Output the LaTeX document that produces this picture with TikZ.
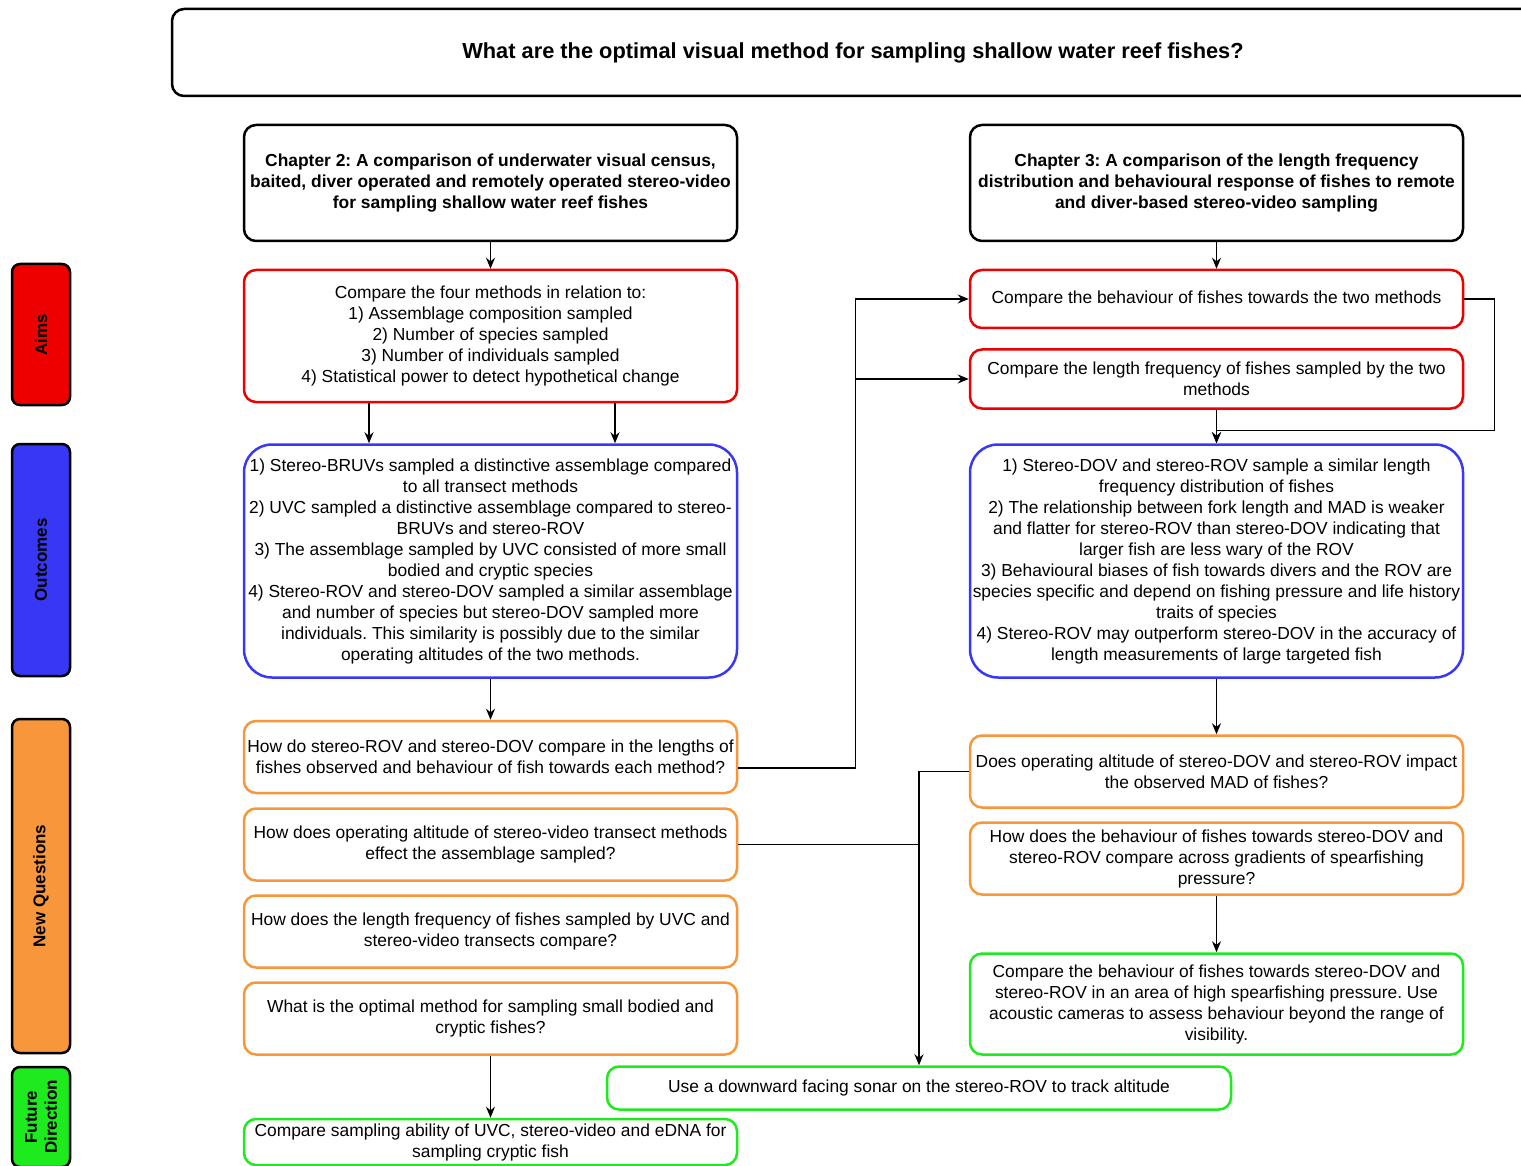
\documentclass[tikz,border=0pt]{standalone}
\usepackage{fontspec}
\setmainfont{Liberation Sans}
\usetikzlibrary{arrows.meta}
\definecolor{aimred}{RGB}{238,0,0}
\definecolor{outblue}{RGB}{55,55,245}
\definecolor{qorange}{RGB}{248,150,60}
\definecolor{fdgreen}{RGB}{30,235,30}
\frenchspacing
\begin{document}
\begin{tikzpicture}[x=1pt, y=-1pt, thick, >={Stealth[length=11pt,width=9pt]},
  box/.style = {draw, rounded corners=12pt, line width=2.5pt, align=center, inner xsep=0pt, inner ysep=2pt, font=\fontsize{17.4}{21}\selectfont},
  chap/.style = {box, draw=black, minimum width=493pt, minimum height=116pt, font=\fontsize{17.4}{21}\selectfont\bfseries},
  aim/.style = {box, draw=aimred, minimum width=493pt},
  outc/.style = {box, draw=outblue, rounded corners=28pt, minimum width=493pt, minimum height=233pt},
  quest/.style = {box, draw=qorange, minimum width=493pt, minimum height=72pt},
  fut/.style = {box, draw=fdgreen, minimum width=493pt},
  sidebox/.style = {draw=black, line width=2.5pt, rounded corners=8pt, rotate=90, minimum height=58pt, align=center, font=\fontsize{17}{20}\selectfont\bfseries},
  link/.style = {line width=1.5pt}]
\useasboundingbox (0,0) rectangle (1521,1166);

\node[box, draw=black, minimum width=1362pt, minimum height=87pt, font=\fontsize{21.8}{25}\selectfont\bfseries] (0) at (853,52.5) {What are the optimal visual method for sampling shallow water reef fishes?};

\node[sidebox, fill=aimred, minimum width=141pt] (21) at (41,334.5) {Aims};
\node[sidebox, fill=outblue, minimum width=232pt] (22) at (41,560) {Outcomes};
\node[sidebox, fill=qorange, minimum width=334pt] (23) at (41,886) {New Questions};
\node[sidebox, fill=fdgreen, minimum width=100pt] (24) at (41,1117) {Future\\Direction};

\node[chap] (1) at (490.5,183) {Chapter 2: A comparison of underwater visual census,\\baited, diver operated and remotely operated stereo-video\\for sampling shallow water reef fishes};
\node[aim, minimum height=132pt] (2) at (490.5,336) {Compare the four methods in relation to:\\1) Assemblage composition sampled\\2) Number of species sampled\\3) Number of individuals sampled\\4) Statistical power to detect hypothetical change};
\node[outc] (3) at (490.5,561) {1) Stereo-BRUVs sampled a distinctive assemblage compared\\to all transect methods\\2) UVC sampled a distinctive assemblage compared to stereo-\\BRUVs and stereo-ROV\\3) The assemblage sampled by UVC consisted of more small\\bodied and cryptic species\\4) Stereo-ROV and stereo-DOV sampled a similar assemblage\\and number of species but stereo-DOV sampled more\\individuals. This similarity is possibly due to the similar\\operating altitudes of the two methods.};
\node[quest] (4) at (490.5,757) {How do stereo-ROV and stereo-DOV compare in the lengths of\\fishes observed and behaviour of fish towards each method?};
\node[quest] (5) at (490.5,844.5) {How does operating altitude of stereo-video transect methods\\effect the assemblage sampled?};
\node[quest] (6) at (490.5,931.5) {How does the length frequency of fishes sampled by UVC and\\stereo-video transects compare?};
\node[quest] (7) at (490.5,1018.5) {What is the optimal method for sampling small bodied and\\cryptic fishes?};
\node[fut, minimum height=46pt] (8) at (490.5,1142) {Compare sampling ability of UVC, stereo-video and eDNA for\\sampling cryptic fish};

\node[chap] (9) at (1216.5,183) {Chapter 3: A comparison of the length frequency\\distribution and behavioural response of fishes to remote\\and diver-based stereo-video sampling};
\node[aim, minimum height=58pt] (10) at (1216.5,299) {Compare the behaviour of fishes towards the two methods};
\node[aim, minimum height=59pt] (11) at (1216.5,379) {Compare the length frequency of fishes sampled by the two\\methods};
\node[outc] (12) at (1216.5,561) {1) Stereo-DOV and stereo-ROV sample a similar length\\frequency distribution of fishes\\2) The relationship between fork length and MAD is weaker\\and flatter for stereo-ROV than stereo-DOV indicating that\\larger fish are less wary of the ROV\\3) Behavioural biases of fish towards divers and the ROV are\\species specific and depend on fishing pressure and life history\\traits of species\\4) Stereo-ROV may outperform stereo-DOV in the accuracy of\\length measurements of large targeted fish};
\node[quest] (13) at (1216.5,771.5) {Does operating altitude of stereo-DOV and stereo-ROV impact\\the observed MAD of fishes?};
\node[quest] (14) at (1216.5,858.5) {How does the behaviour of fishes towards stereo-DOV and\\stereo-ROV compare across gradients of spearfishing\\pressure?};
\node[fut, minimum height=101pt] (15) at (1216.5,1004) {Compare the behaviour of fishes towards stereo-DOV and\\stereo-ROV in an area of high spearfishing pressure. Use\\acoustic cameras to assess behaviour beyond the range of\\visibility.};
\node[fut, minimum width=624pt, minimum height=43pt] (16) at (919,1088) {Use a downward facing sonar on the stereo-ROV to track altitude};

\draw [link, ->] (1) -- (2);
\draw [link, ->] ([xshift=-121.5pt]2.south) -- ([xshift=-121.5pt]3.north);
\draw [link, ->] ([xshift=124.5pt]2.south) -- ([xshift=124.5pt]3.north);
\draw [link, ->] (3) -- (4);
\draw [link, ->] (7) -- (8);
\draw [link, ->] ([yshift=-11pt]4.east) -- ++(117,0) coordinate (c) |- (10);
\draw [link, ->] (c) |- (11);
\draw [link] (5) -- (5 -| 16);
\draw [link, ->] (13) -| (16);

\draw [link, ->] (9) -- (10);
\draw [link, ->] (11) -- (12);
\draw [link, ->] (10.east) -- ++(30,0) |- ([yshift=13pt]12.north) -- (12.north);
\draw [link, ->] (12) -- (13);
\draw [link, ->] (14) -- (15);

\end{tikzpicture}
\end{document}
